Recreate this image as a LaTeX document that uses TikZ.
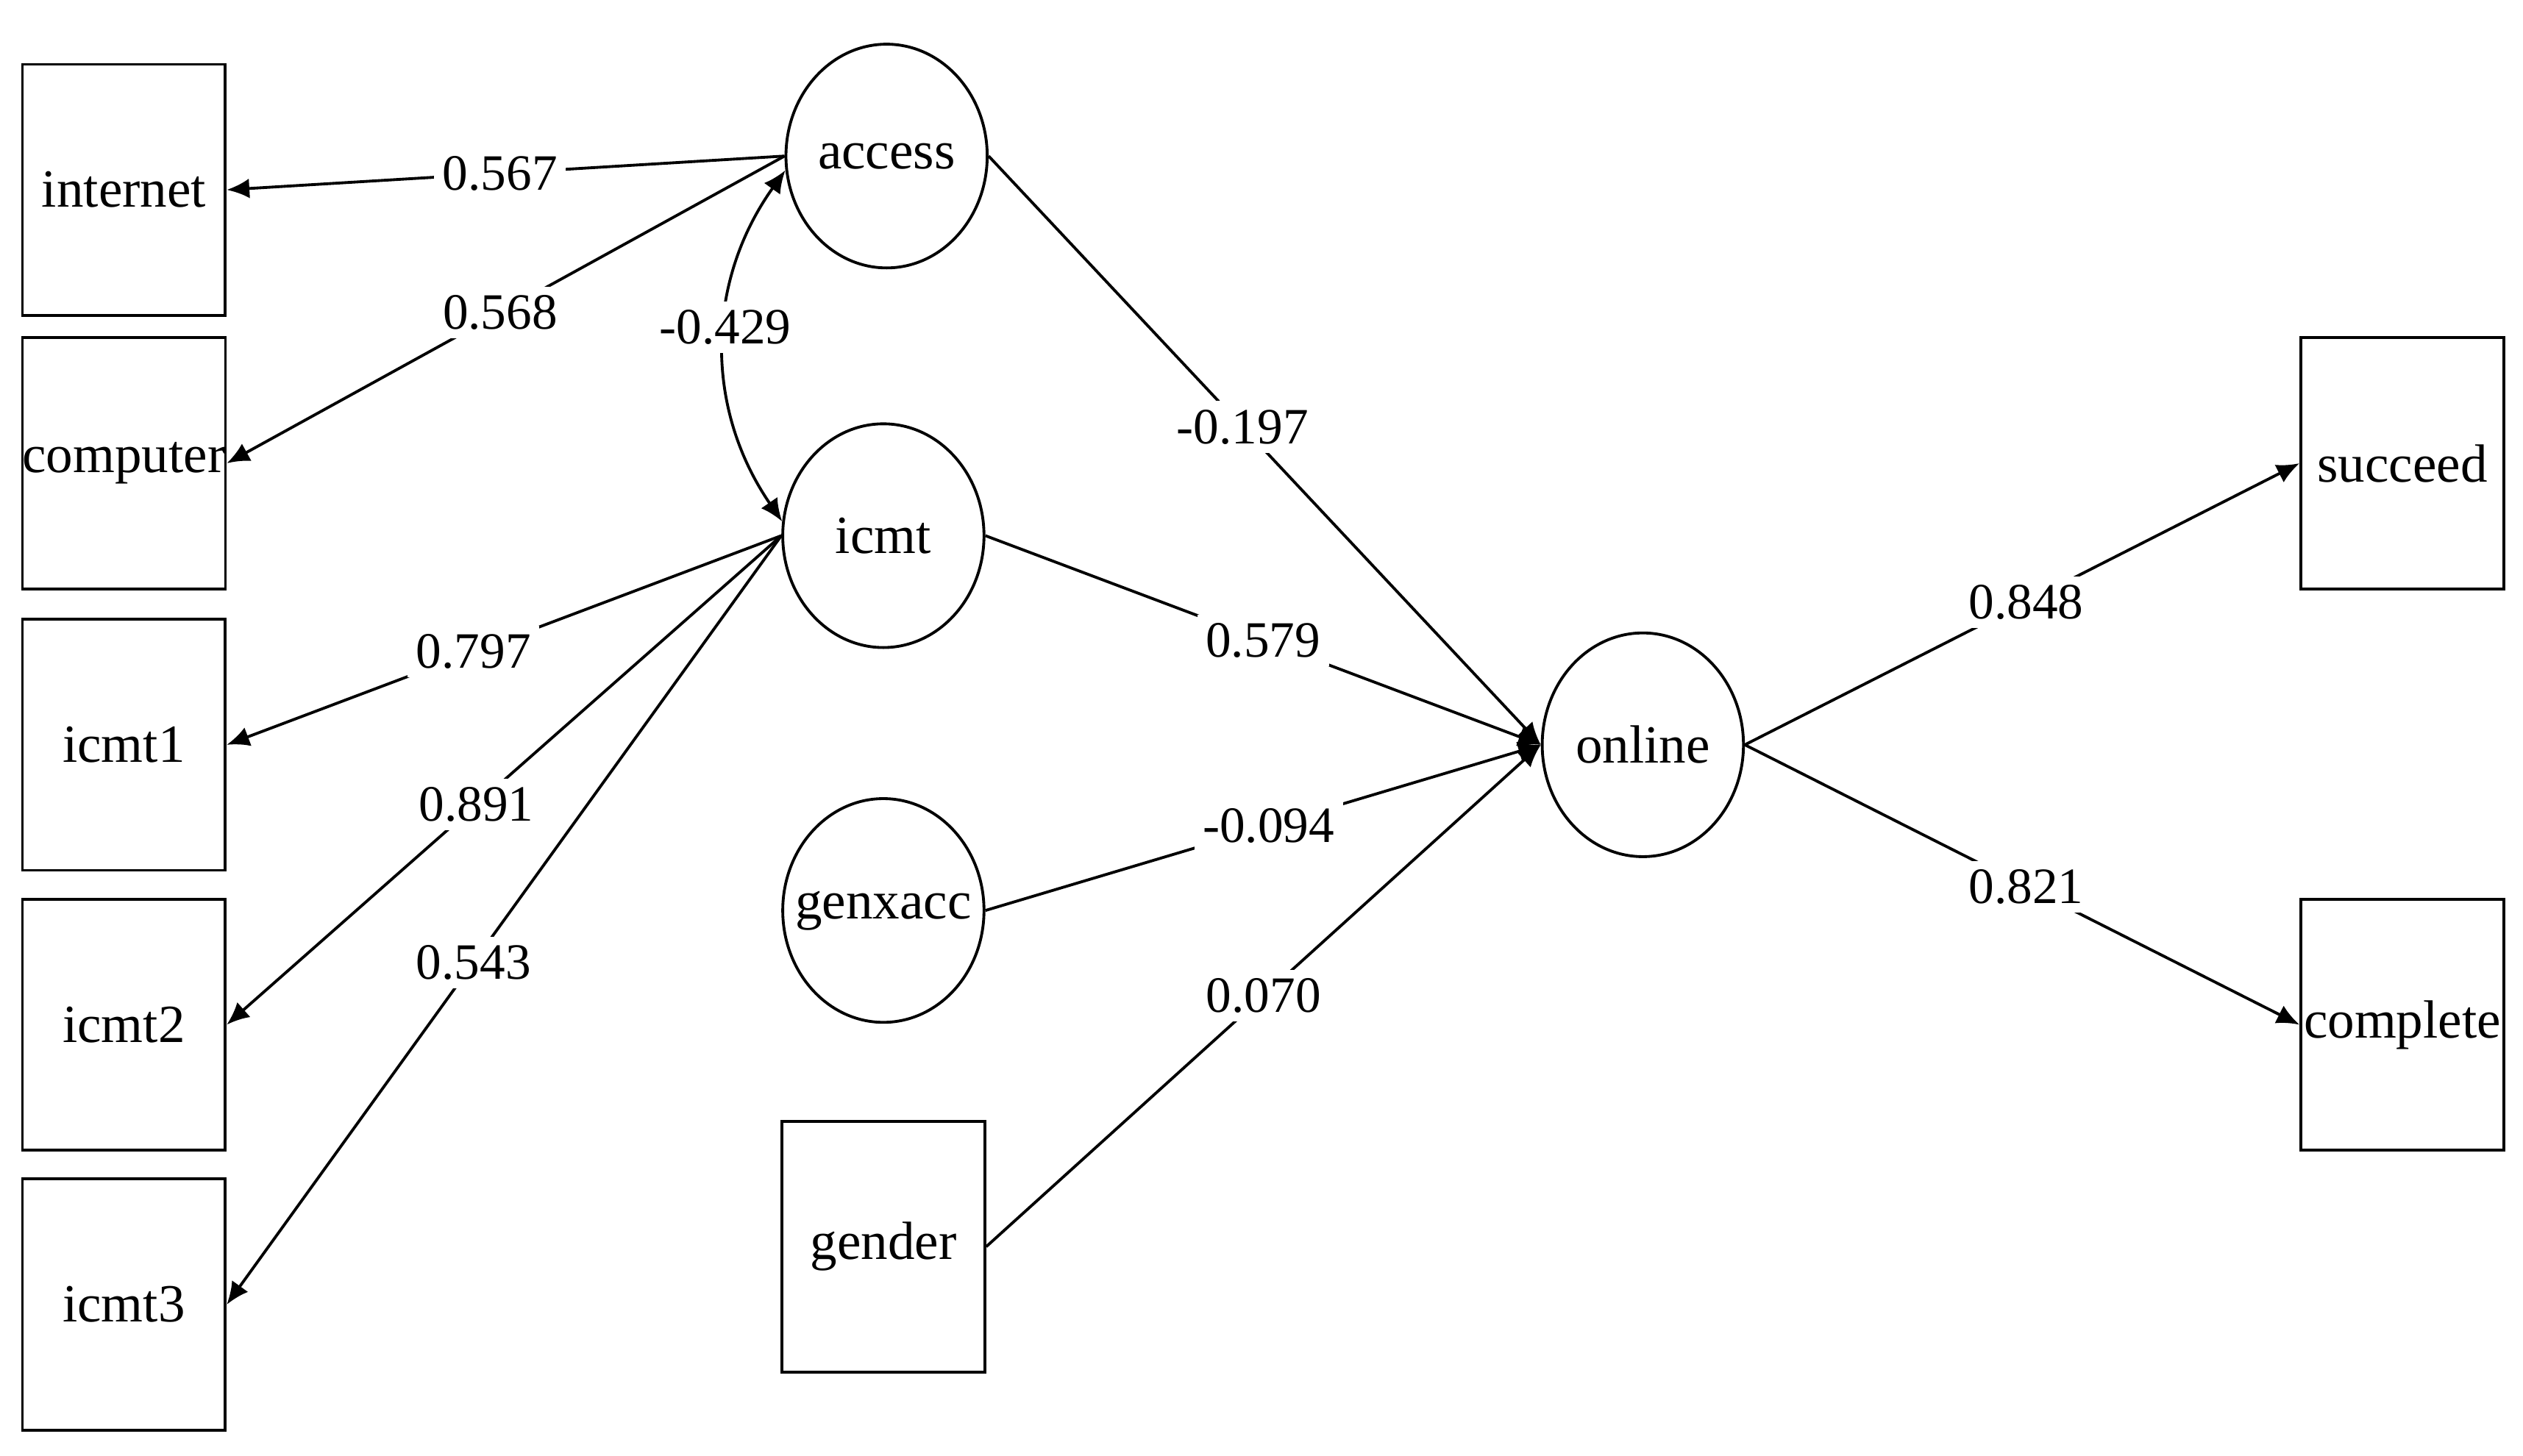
\documentclass[tikz,border=0pt]{standalone}
\usepackage{fontspec}
\setmainfont{Liberation Serif}
\usetikzlibrary{arrows.meta,shapes.geometric}
\begin{document}
\begin{tikzpicture}[x=0.01cm,y=-0.01cm,
  box/.style={draw,line width=0.5pt,minimum width=1.26cm,minimum height=1.56cm,inner sep=0pt,font=\fontsize{9.5pt}{10pt}\selectfont},
  lat/.style={draw,ellipse,line width=0.5pt,minimum width=1.25cm,minimum height=1.39cm,inner sep=0pt,font=\fontsize{9.5pt}{10pt}\selectfont},
  arr/.style={line width=0.5pt,-{Latex[length=4pt,width=3.5pt]}},
  lab/.style={fill=white,inner sep=1.5pt,font=\fontsize{9pt}{9.5pt}\selectfont}]
\useasboundingbox (0,0) rectangle (1568,905);
\node[box] (internet) at (77,118) {internet};
\node[box] (computer) at (77,288) {computer};
\node[box] (icmt1) at (77,463) {icmt1};
\node[box] (icmt2) at (77,637) {icmt2};
\node[box] (icmt3) at (77,811) {icmt3};
\node[lat] (access) at (551,97) {access};
\node[lat] (icmt) at (549,333) {icmt};
\node[lat,inner xsep=-14pt] (genxacc) at (549,566) {genxacc};
\node[box] (gender) at (549,775) {gender};
\node[lat] (online) at (1021,463) {online};
\node[box] (succeed) at (1493,288) {succeed};
\node[box] (complete) at (1493,637) {complete};

\draw[arr] (access.west) -- node[lab,pos=0.51]{0.567} (internet.east);
\draw[arr] (access.west) -- node[lab,pos=0.51]{0.568} (computer.east);
\draw[line width=0.5pt,{Latex[length=4pt,width=3.5pt]}-{Latex[length=4pt,width=3.5pt]}] (access.188) to[bend right=35] node[lab,pos=0.45]{-0.429} (icmt.172);
\draw[arr] (icmt.west) -- node[lab,pos=0.555]{0.797} (icmt1.east);
\draw[arr] (icmt.west) -- node[lab,pos=0.55]{0.891} (icmt2.east);
\draw[arr] (icmt.west) -- node[lab,pos=0.555]{0.543} (icmt3.east);
\draw[arr] (access.east) -- node[lab,pos=0.46]{-0.197} (online.west);
\draw[arr] (icmt.east) -- node[lab,pos=0.5]{0.579} (online.west);
\draw[arr] (genxacc.east) -- node[lab,pos=0.51]{-0.094} (online.west);
\draw[arr] (gender.east) -- node[lab,pos=0.5]{0.070} (online.west);
\draw[arr] (online.east) -- node[lab,pos=0.507]{0.848} (succeed.west);
\draw[arr] (online.east) -- node[lab,pos=0.507]{0.821} (complete.west);
\end{tikzpicture}
\end{document}
